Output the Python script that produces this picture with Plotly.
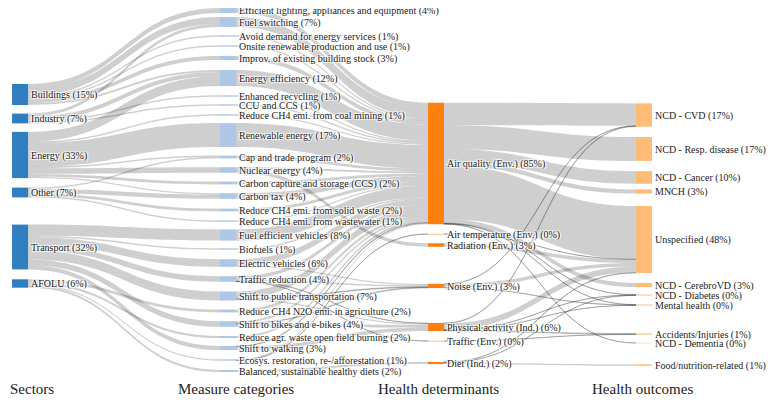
import plotly.graph_objects as go

sectors = ["Buildings (15%)", "Industry (7%)", "Energy (33%)", "Other (7%)", "Transport (32%)", "AFOLU (6%)"]
measures = [
    "Efficient lighting, appliances and equipment (4%)", "Fuel switching (7%)",
    "Avoid demand for energy services (1%)", "Onsite renewable production and use (1%)",
    "Improv. of existing building stock (3%)", "Energy efficiency (12%)",
    "Enhanced recycling (1%)", "CCU and CCS (1%)", "Reduce CH4 emi. from coal mining (1%)",
    "Renewable energy (17%)", "Cap and trade program (2%)", "Nuclear energy (4%)",
    "Carbon capture and storage (CCS) (2%)", "Carbon tax (4%)",
    "Reduce CH4 emi. from solid waste (2%)", "Reduce CH4 emi. from wastewater (1%)",
    "Fuel efficient vehicles (8%)", "Biofuels (1%)", "Electric vehicles (6%)",
    "Traffic reduction (4%)", "Shift to public transportation (7%)",
    "Reduce CH4 N2O emi. in agriculture (2%)", "Shift to bikes and e-bikes (4%)",
    "Reduce agr. waste open field burning (2%)", "Shift to walking (3%)",
    "Ecosys. restoration, re-/afforestation (1%)", "Balanced, sustainable healthy diets (2%)",
]
determinants = ["Air quality (Env.) (85%)", "Air temperature (Env.) (0%)", "Radiation (Env.) (3%)",
                "Noise (Env.) (3%)", "Physical activity (Ind.) (6%)", "Traffic (Env.) (0%)", "Diet (Ind.) (2%)"]
outcomes = ["NCD - CVD (17%)", "NCD - Resp. disease (17%)", "NCD - Cancer (10%)", "MNCH (3%)",
            "Unspecified (48%)", "NCD - CerebroVD (3%)", "NCD - Diabetes (0%)", "Mental health (0%)",
            "Accidents/Injuries (1%)", "NCD - Dementia (0%)", "Food/nutrition-related (1%)"]
column_titles = ["Sectors", "Measure categories", "Health determinants", "Health outcomes"]

# flows (source, target index, value in %)
sector_measure = [
    ("Buildings (15%)", 0, 3.5), ("Buildings (15%)", 1, 5), ("Buildings (15%)", 2, 1),
    ("Buildings (15%)", 3, 1), ("Buildings (15%)", 4, 3), ("Buildings (15%)", 5, 1.5),
    ("Industry (7%)", 1, 2), ("Industry (7%)", 5, 3), ("Industry (7%)", 6, 1), ("Industry (7%)", 7, 1),
    ("Energy (33%)", 5, 7), ("Energy (33%)", 8, 1), ("Energy (33%)", 9, 17), ("Energy (33%)", 10, 1),
    ("Energy (33%)", 11, 4), ("Energy (33%)", 12, 2), ("Energy (33%)", 13, 1),
    ("Other (7%)", 10, 1), ("Other (7%)", 13, 3), ("Other (7%)", 14, 2), ("Other (7%)", 15, 1),
    ("Transport (32%)", 16, 8), ("Transport (32%)", 17, 1), ("Transport (32%)", 18, 5.5),
    ("Transport (32%)", 19, 4), ("Transport (32%)", 20, 6.5), ("Transport (32%)", 22, 4),
    ("Transport (32%)", 24, 3),
    ("AFOLU (6%)", 21, 2), ("AFOLU (6%)", 23, 1.5), ("AFOLU (6%)", 25, 1), ("AFOLU (6%)", 26, 1.5),
]
AQ, AT, RAD, NOI, PA, TRA, DIE = determinants
measure_det = [
    (0, AQ, 3.5), (1, AQ, 7), (2, AQ, 1), (3, AQ, 1), (4, AQ, 3), (5, AQ, 11.5), (6, AQ, 1),
    (7, AQ, 1), (8, AQ, 1), (9, AQ, 17), (10, AQ, 2), (11, AQ, 1.5), (11, RAD, 2.5), (12, AQ, 2),
    (13, AQ, 4), (14, AQ, 2), (15, AQ, 1), (16, AQ, 8), (17, AQ, 1), (18, AQ, 4.5), (18, NOI, 1),
    (19, AQ, 2.5), (19, NOI, 1), (19, TRA, 0.2), (19, PA, 0.3), (20, AQ, 5), (20, NOI, 0.5),
    (20, PA, 1), (21, AQ, 2), (22, AQ, 1.5), (22, PA, 2), (22, NOI, 0.5), (23, AQ, 1.5),
    (24, AQ, 0.5), (24, PA, 2.5), (25, AQ, 0.8), (25, AT, 0.2), (26, DIE, 1.5),
]
det_outcome = [
    (AQ, 0, 16), (AQ, 1, 17), (AQ, 2, 9), (AQ, 3, 3), (AQ, 4, 38), (AQ, 5, 3), (AQ, 6, 0.3),
    (AQ, 7, 0.2), (AQ, 9, 0.3),
    (AT, 4, 0.2), (RAD, 4, 2.5),
    (NOI, 4, 2.5), (NOI, 0, 0.2), (NOI, 7, 0.3),
    (PA, 4, 4.4), (PA, 0, 0.4), (PA, 6, 0.2), (PA, 7, 0.2), (PA, 8, 0.6),
    (TRA, 8, 0.2),
    (DIE, 10, 1.0), (DIE, 4, 0.3), (DIE, 6, 0.2),
]

# ---- layout: vertical node centres (px from top of plot area) ----
W, H, THICK, PAD = 640, 374, 16, 9
col_y = [
    [94.5, 118.5, 155, 192.5, 247, 283.5],
    [10.5, 22, 36, 46, 58, 78, 96, 105, 115, 135, 157, 170, 183, 196, 210, 221, 235, 249, 263,
     279, 296, 311, 324, 337, 348, 360, 371],
    [163.5, 234, 245, 286, 327, 341, 363],
    [115, 149, 177.5, 191.5, 239.5, 285, 295, 305, 334, 343, 365],
]

columns = [sectors, measures, determinants, outcomes]
labels, colors, xs, ys = [], [], [], []
col_colors = ["#2f7fc0", "#aec7e8", "#ff7f0e", "#ffbb78"]
for k, col in enumerate(columns):
    for j, lab in enumerate(col):
        labels.append(lab)
        colors.append(col_colors[k])
        xs.append(max(k * (W - THICK) / 3 / W, 1e-4))
        ys.append(max((col_y[k][j] - THICK / 2) / H, 1e-4))
# invisible helper column so that the outcome labels sit on the right of their nodes
labels.append("")
colors.append("rgba(0,0,0,0)")
xs.append(0.99)
ys.append(0.5)
dummy = len(labels) - 1

LINK = "rgba(0,0,0,0.19)"
idx = {l: i for i, l in enumerate(labels)}
src, tgt, val, lcol = [], [], [], []
for s, m, v in sector_measure:
    src.append(idx[s]); tgt.append(idx[measures[m]]); val.append(v); lcol.append(LINK)
for m, d, v in measure_det:
    src.append(idx[measures[m]]); tgt.append(idx[d]); val.append(v); lcol.append(LINK)
for d, o, v in det_outcome:
    src.append(idx[d]); tgt.append(idx[outcomes[o]]); val.append(v); lcol.append(LINK)
for o in outcomes:
    src.append(idx[o]); tgt.append(dummy); val.append(1e-6); lcol.append("rgba(0,0,0,0)")

FONT = "Liberation Serif, Times New Roman, serif"
fig = go.Figure(go.Sankey(
    arrangement="fixed",
    node=dict(label=labels, color=colors, pad=PAD, thickness=THICK, line=dict(width=0),
              x=xs, y=ys),
    link=dict(source=src, target=tgt, value=val, color=lcol, line=dict(width=0)),
    textfont=dict(family=FONT, size=10, color="#222"),
))

title_px = [2, 178, 378, 592]
for t, px in zip(column_titles, title_px):
    fig.add_annotation(text=t, x=max((px - 22) / W, -0.0185), y=(H - 381) / H,
                       xref="paper", yref="paper", xanchor="left", yanchor="middle",
                       showarrow=False, font=dict(family=FONT, size=15, color="#222"))

fig.update_layout(width=776, height=400, margin=dict(l=12, r=124, t=0, b=26),
                  font=dict(family=FONT, size=10, color="#222"),
                  paper_bgcolor="white", plot_bgcolor="white")
fig.write_html("out.html")
